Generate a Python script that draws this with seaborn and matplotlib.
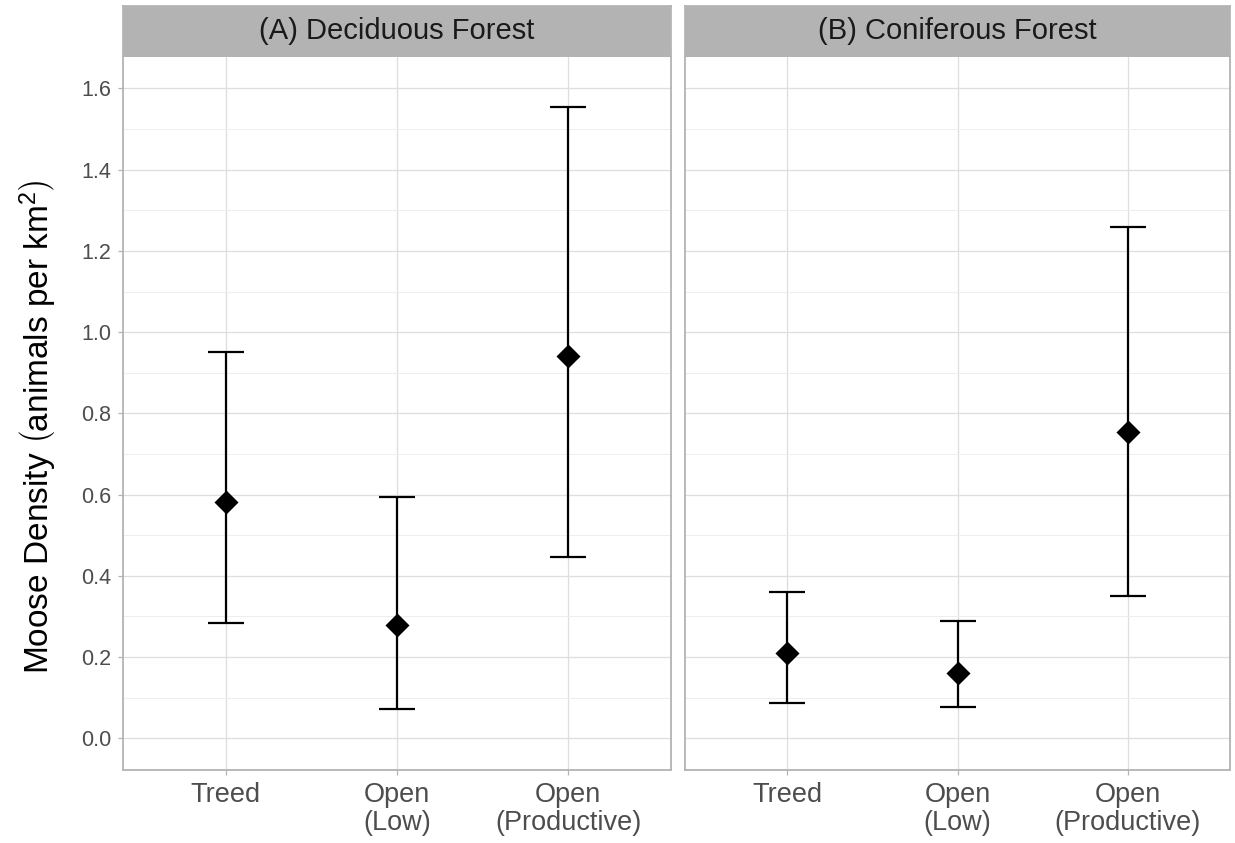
import numpy as np
import pandas as pd
import matplotlib
matplotlib.use("Agg")
import matplotlib.pyplot as plt
from matplotlib.ticker import MultipleLocator
import seaborn as sns

# ---- data ----
habitats = ["Treed", "Open\n(Low)", "Open\n(Productive)"]
panels = ["(A) Deciduous Forest", "(B) Coniferous Forest"]
dec_mean = [0.581, 0.279, 0.942]
dec_lower = [0.283, 0.073, 0.446]
dec_upper = [0.950, 0.593, 1.555]
con_mean = [0.211, 0.162, 0.755]
con_lower = [0.086, 0.076, 0.351]
con_upper = [0.360, 0.288, 1.259]
y_ticks = [0.0, 0.2, 0.4, 0.6, 0.8, 1.0, 1.2, 1.4, 1.6]
y_label = r"Moose Density $\left(\mathrm{animals\ per\ km}^{2}\right)$"

df = pd.DataFrame({
    "panel": [panels[0]] * 3 + [panels[1]] * 3,
    "habitat": habitats * 2,
    "mean": dec_mean + con_mean,
    "lower": dec_lower + con_lower,
    "upper": dec_upper + con_upper,
})

sns.set_theme(style="whitegrid")
plt.rcParams["font.family"] = ["Liberation Sans", "DejaVu Sans"]
plt.rcParams["mathtext.fontset"] = "custom"
plt.rcParams["mathtext.rm"] = "Liberation Sans"
plt.rcParams["mathtext.it"] = "Liberation Sans:italic"
plt.rcParams["mathtext.bf"] = "Liberation Sans:bold"

W, H = 1235, 843
fig = plt.figure(figsize=(W / 100, H / 100), dpi=100)
fig.patch.set_facecolor("white")

panel_px = [(123, 671), (685, 1230)]
top_px, bottom_px = 56, 770
strip_top_px = 6

grey70 = "#B3B3B3"
for i, (name, (x0, x1)) in enumerate(zip(panels, panel_px)):
    ax = fig.add_axes([x0 / W, 1 - bottom_px / H, (x1 - x0) / W, (bottom_px - top_px) / H])
    sub = df[df["panel"] == name]
    sns.scatterplot(data=sub, x="habitat", y="mean", marker="D", s=150,
                    color="black", edgecolor="black", linewidth=0, ax=ax, zorder=4)
    ax.errorbar(sub["habitat"], sub["mean"],
                yerr=[sub["mean"] - sub["lower"], sub["upper"] - sub["mean"]],
                fmt="none", ecolor="black", elinewidth=1.6, capsize=13, capthick=1.6,
                zorder=3)
    ax.set_xlim(-0.6, 2.6)
    ax.set_ylim(-0.078, 1.68)
    ax.set_yticks(y_ticks)
    ax.yaxis.set_minor_locator(MultipleLocator(0.1))
    ax.set_facecolor("white")
    ax.grid(True, which="major", color="#DEDEDE", linewidth=0.9)
    ax.grid(True, which="minor", axis="y", color="#EEEEEE", linewidth=0.7)
    ax.set_axisbelow(True)
    for sp in ax.spines.values():
        sp.set_color(grey70)
        sp.set_linewidth(1.3)
        sp.set_visible(True)
    ax.set_xlabel("")
    ax.set_ylabel("")
    ax.tick_params(axis="x", which="major", length=3.6, width=0.9, color=grey70,
                   labelsize=19.5, labelcolor="#4D4D4D", pad=5, bottom=True)
    ax.tick_params(axis="y", which="major", length=3.6, width=0.9, color=grey70,
                   labelsize=15.5, labelcolor="#4D4D4D", pad=5, left=True)
    ax.tick_params(axis="y", which="minor", length=0, left=False)
    for lab in ax.get_xticklabels():
        lab.set_linespacing(1.1)
    if i == 0:
        ax.set_yticklabels([f"{v:.1f}" for v in y_ticks])
    else:
        ax.tick_params(axis="y", which="major", labelleft=False, length=0)

    sax = fig.add_axes([x0 / W, 1 - top_px / H, (x1 - x0) / W, (top_px - strip_top_px) / H])
    sax.set_facecolor(grey70)
    sax.set_xticks([])
    sax.set_yticks([])
    sax.grid(False)
    for sp in sax.spines.values():
        sp.set_color(grey70)
    sax.text(0.5, 0.5, name, ha="center", va="center", fontsize=21,
             color="#1A1A1A", transform=sax.transAxes)

fig.text(38 / W, 1 - 427 / H, y_label, rotation=90, ha="center", va="center",
         fontsize=24, color="black")

fig.savefig("out.png", dpi=100, facecolor="white")
